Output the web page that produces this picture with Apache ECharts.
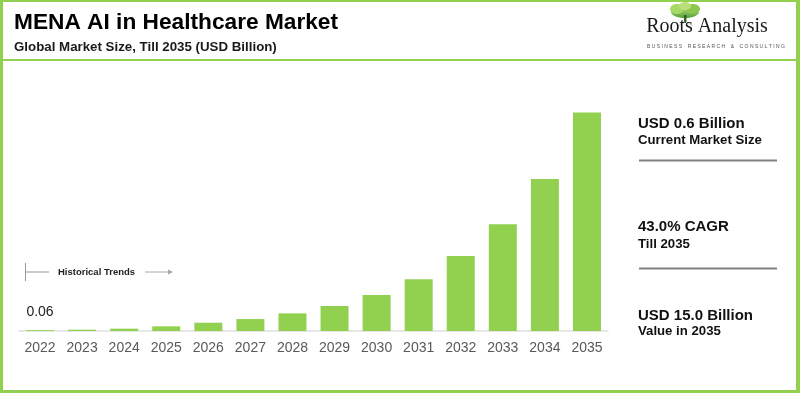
<!DOCTYPE html>
<html>
<head>
<meta charset="utf-8">
<script src="https://cdn.jsdelivr.net/npm/echarts@6/dist/echarts.min.js"></script>
<style>
html,body{margin:0;padding:0;background:#fff;}
#chart{width:800px;height:393px;}
</style>
</head>
<body>
<div id="chart"></div>
<script>
var years = ['2022','2023','2024','2025','2026','2027','2028','2029','2030','2031','2032','2033','2034','2035'];
var marketSize = [0.06,0.09,0.16,0.32,0.57,0.82,1.21,1.72,2.47,3.55,5.15,7.32,10.43,15.0];
var firstLabel = '0.06';
var titleText = 'MENA AI in Healthcare Market';
var subtitleText = 'Global Market Size, Till 2035 (USD Billion)';
var panelTexts = [
  ['USD 0.6 Billion','Current Market Size'],
  ['43.0% CAGR','Till 2035'],
  ['USD 15.0 Billion','Value in 2035']
];
var historicalText = 'Historical Trends';

var GREEN = '#92d050';
var FONT = 'Arial, "Liberation Sans", sans-serif';

var seriesData = marketSize.map(function(v,i){
  if(i===0){
    return {value:v,label:{show:true,position:'top',distance:11,formatter:firstLabel,color:'#222',fontSize:14,fontFamily:FONT}};
  }
  return v;
});

var panelY = [[123.5,140],[227,244],[316,331]];
var graphics = [
  {type:'rect',shape:{x:0,y:0,width:800,height:2},style:{fill:GREEN},silent:true},
  {type:'rect',shape:{x:0,y:0,width:3,height:393},style:{fill:GREEN},silent:true},
  {type:'rect',shape:{x:796,y:0,width:4,height:393},style:{fill:GREEN},silent:true},
  {type:'rect',shape:{x:0,y:390,width:800,height:3},style:{fill:GREEN},silent:true},
  {type:'rect',shape:{x:3,y:59,width:793,height:2},style:{fill:GREEN},silent:true},
  {type:'text',x:14,y:23,style:{text:titleText,font:'bold 22.7px '+FONT,fill:'#000',textVerticalAlign:'middle'}},
  {type:'text',x:14,y:47.5,style:{text:subtitleText,font:'bold 13.3px '+FONT,fill:'#1a1a1a',textVerticalAlign:'middle'}},
  // logo tree
  {type:'ellipse',shape:{cx:685,cy:12,rx:14,ry:6},style:{fill:new echarts.graphic.LinearGradient(0,0,0,1,[{offset:0,color:'#c7e07a'},{offset:1,color:'#4fa33a'}])}},
  {type:'ellipse',shape:{cx:677,cy:9,rx:7,ry:5},style:{fill:'#a8d866'}},
  {type:'ellipse',shape:{cx:693,cy:9,rx:7,ry:5},style:{fill:'#8cc84f'}},
  {type:'ellipse',shape:{cx:685,cy:6,rx:6,ry:4},style:{fill:'#b9e07a'}},
  {type:'rect',shape:{x:684,y:15,width:2.5,height:8},style:{fill:'#3d5c2a'}},
  {type:'line',shape:{x1:685,y1:22,x2:678,y2:26},style:{stroke:'#c9d9c0',lineWidth:1}},
  {type:'line',shape:{x1:686,y1:22,x2:693,y2:26},style:{stroke:'#c9d9c0',lineWidth:1}},
  {type:'text',x:707,y:27,style:{text:'Roots Analysis',font:'20px "Liberation Serif", "Times New Roman", serif',fill:'#1a1a1a',textAlign:'center',textVerticalAlign:'middle'}},
  {type:'text',x:716,y:47,style:{text:'B U S I N E S S    R E S E A R C H    &    C O N S U L T I N G',font:'5px '+FONT,fill:'#555',textAlign:'center',textVerticalAlign:'middle'}},
  // historical trends annotation
  {type:'line',shape:{x1:25.5,y1:263,x2:25.5,y2:281},style:{stroke:'#999',lineWidth:1}},
  {type:'line',shape:{x1:26,y1:272,x2:49,y2:272},style:{stroke:'#999',lineWidth:1}},
  {type:'text',x:58,y:272,style:{text:historicalText,font:'bold 9.5px '+FONT,fill:'#222',textVerticalAlign:'middle'}},
  {type:'line',shape:{x1:145,y1:272,x2:171,y2:272},style:{stroke:'#aaa',lineWidth:1}},
  {type:'polygon',shape:{points:[[173,272],[168,269.5],[168,274.5]]},style:{fill:'#aaa'}},
  // divider lines
  {type:'rect',shape:{x:639,y:159.5,width:138,height:2},style:{fill:'#808080'}},
  {type:'rect',shape:{x:639,y:267.5,width:138,height:2},style:{fill:'#808080'}}
];
panelTexts.forEach(function(p,i){
  graphics.push({type:'text',x:638,y:panelY[i][0],style:{text:p[0],font:'bold 15px '+FONT,fill:'#111',textVerticalAlign:'middle'}});
  graphics.push({type:'text',x:638,y:panelY[i][1],style:{text:p[1],font:'bold 13.2px '+FONT,fill:'#111',textVerticalAlign:'middle'}});
});

var chart = echarts.init(document.getElementById('chart'));
chart.setOption({
  animation:false,
  backgroundColor:'#fff',
  grid:{left:19,width:589,top:112.5,height:218.5,containLabel:false},
  xAxis:{type:'category',data:years,
    axisLine:{lineStyle:{color:'#e0e0e0',width:1.5}},
    axisTick:{show:false},
    axisLabel:{color:'#595959',fontSize:14,fontFamily:FONT,margin:10}},
  yAxis:{type:'value',min:0,max:15,show:false,splitLine:{show:false}},
  series:[{type:'bar',data:seriesData,barWidth:28,itemStyle:{color:GREEN},label:{show:false}}],
  graphic:graphics
});
</script>
</body>
</html>
